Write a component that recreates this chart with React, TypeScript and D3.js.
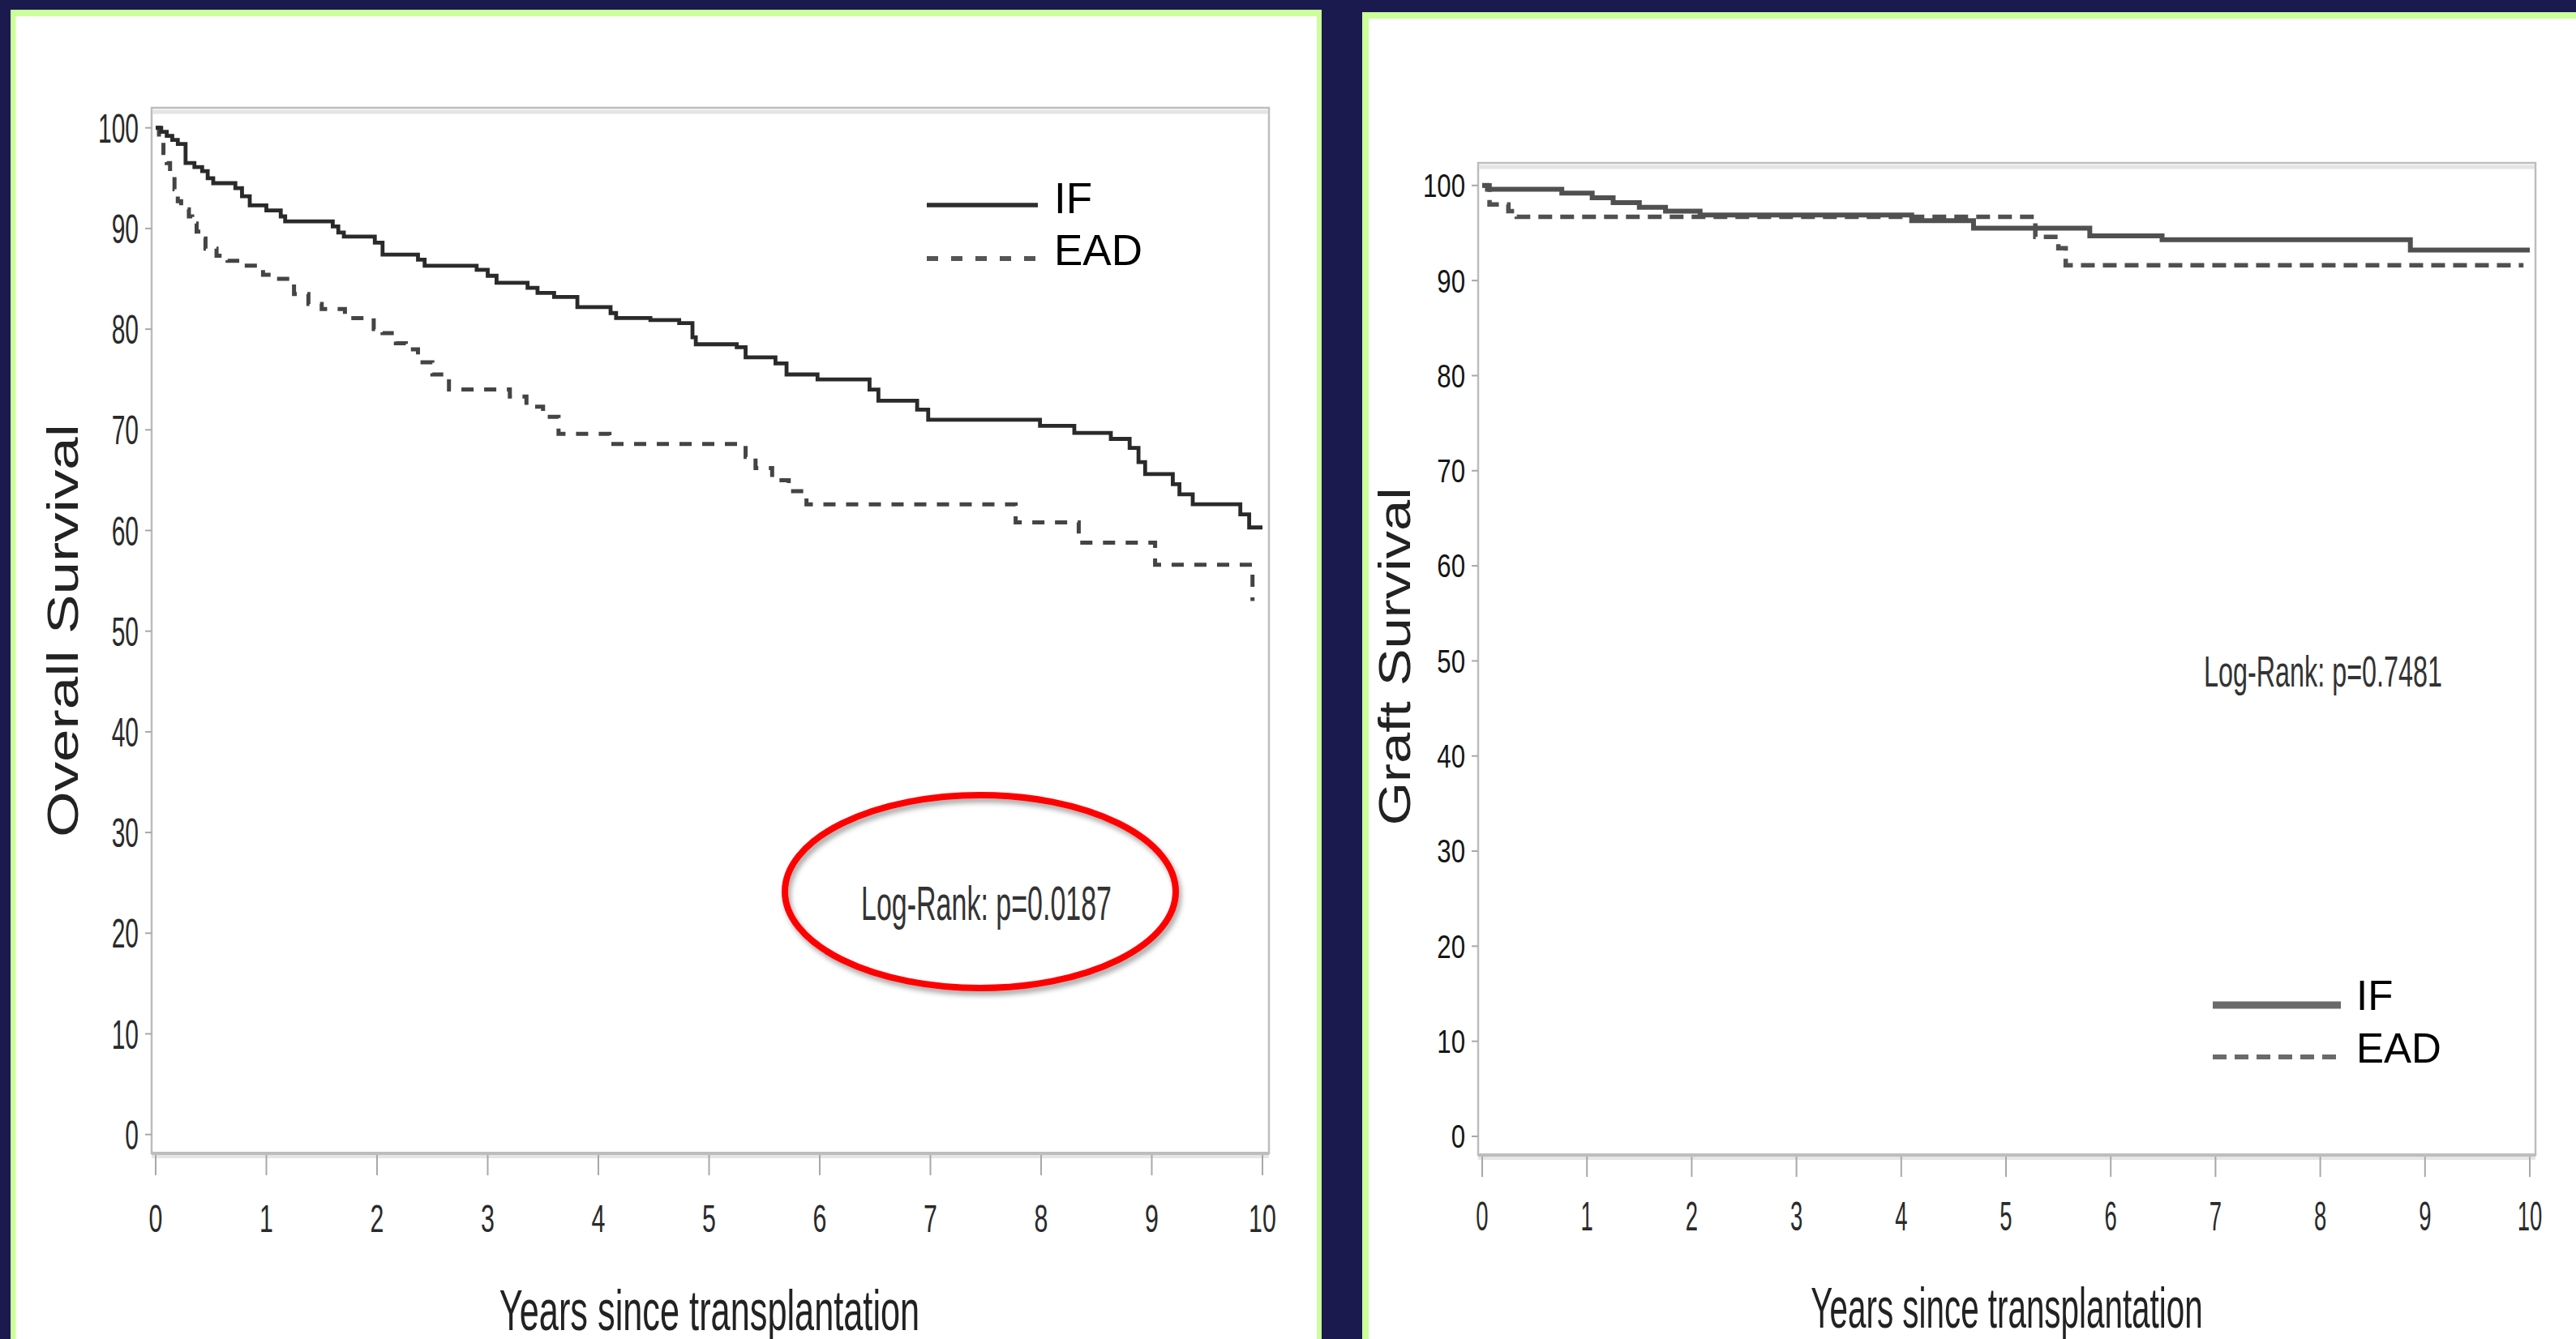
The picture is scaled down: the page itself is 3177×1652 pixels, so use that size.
import React from "react";
import * as d3 from "d3";

// ---------- data ----------
const xTicks = [0, 1, 2, 3, 4, 5, 6, 7, 8, 9, 10];
const yTicks = [0, 10, 20, 30, 40, 50, 60, 70, 80, 90, 100];
const seriesNames = ["IF", "EAD"];
const panelYTitles = ["Overall Survival", "Graft Survival"];
const xTitle = "Years since transplantation";
const logRankLabels = ["Log-Rank: p=0.0187", "Log-Rank: p=0.7481"];

// Kaplan–Meier steps [years, survival %] (value holds after the time)
const overallIF: [number, number][] = [
  [0, 100], [0.05, 99.6], [0.1, 99.2], [0.15, 98.8], [0.2, 98.4], [0.27, 96.5], [0.35, 96.1],
  [0.42, 95.7], [0.47, 95.0], [0.52, 94.5], [0.72, 94.0], [0.78, 93.2], [0.85, 92.3], [1.0, 91.8],
  [1.13, 91.2], [1.17, 90.7], [1.6, 90.2], [1.65, 89.6], [1.7, 89.2], [1.98, 88.6], [2.05, 87.4],
  [2.37, 86.9], [2.43, 86.3], [2.9, 85.9], [3.0, 85.3], [3.08, 84.6], [3.36, 84.1], [3.45, 83.6],
  [3.6, 83.2], [3.81, 82.2], [4.11, 81.6], [4.16, 81.1], [4.47, 80.9], [4.73, 80.6], [4.85, 79.2],
  [4.88, 78.5], [5.25, 78.2], [5.33, 77.2], [5.6, 76.6], [5.7, 75.5], [5.98, 75.0], [6.45, 74.0],
  [6.53, 72.9], [6.88, 72.0], [6.98, 71.0], [7.99, 70.4], [8.3, 69.7], [8.63, 69.1], [8.8, 68.2],
  [8.88, 66.8], [8.94, 65.6], [9.19, 64.6], [9.25, 63.6], [9.37, 62.6], [9.8, 61.6], [9.88, 60.3],
  [10.0, 60.3],
];
const overallEAD: [number, number][] = [
  [0, 100], [0.03, 98.8], [0.07, 97.5], [0.1, 96.5], [0.13, 95.2], [0.17, 93.9], [0.2, 92.7],
  [0.23, 91.9], [0.3, 91.2], [0.33, 90.5], [0.37, 89.7], [0.42, 89.0], [0.45, 88.0], [0.55, 87.3],
  [0.65, 86.8], [0.77, 86.3], [0.97, 85.4], [1.02, 85.0], [1.25, 83.5], [1.38, 82.5], [1.5, 82.0],
  [1.71, 81.1], [1.97, 80.0], [2.05, 79.6], [2.17, 78.6], [2.26, 78.0], [2.37, 76.7], [2.5, 75.5],
  [2.65, 74.0], [3.2, 73.3], [3.35, 72.3], [3.5, 71.3], [3.64, 69.6], [4.1, 68.6], [5.33, 67.3],
  [5.42, 66.2], [5.57, 65.0], [5.72, 63.9], [5.88, 62.6], [7.77, 60.8], [8.34, 58.8], [9.03, 56.6],
  [9.91, 53.0],
];
const graftIF: [number, number][] = [
  [0, 100], [0.05, 99.6], [0.76, 99.2], [1.05, 98.7], [1.25, 98.2], [1.5, 97.7], [1.75, 97.3],
  [2.08, 96.9], [4.1, 96.3], [4.69, 95.5], [5.8, 94.7], [6.49, 94.3], [8.86, 93.2], [10.0, 93.2],
];
const graftEAD: [number, number][] = [
  [0, 100], [0.07, 98.0], [0.25, 97.3], [0.33, 96.7], [5.28, 94.6], [5.5, 93.4], [5.57, 91.6],
  [9.94, 91.6],
];

// ---------- drawing ----------
const FONT = "'Liberation Sans', Arial, Helvetica, sans-serif";
const W = 3177;
const H = 1652;

type Layout = {
  x0: number; x10: number; y0: number; y100: number;
  frame: [number, number, number, number];
  yLabelRight: number; yLabelSize: number; yLabelSx: number; yTickLen: number; yLabelColor: string;
  xLabelBase: number; xLabelSize: number; xLabelSx: number;
  xTitleX: number; xTitleBase: number; xTitleSize: number; xTitleSx: number;
  yTitleX: number; yTitleY: number; yTitleSize: number; yTitleLen: number;
  legX0: number; legX1: number; legTextX: number; legY: [number, number]; legBase: [number, number];
  legSize: number; legIF: { color: string; width: number }; legEAD: { color: string; width: number; dash: string };
  lrX: number; lrBase: number; lrSize: number; lrLen: number;
  ifStyle: { color: string; width: number }; eadStyle: { color: string; width: number; dash: string };
};

function Panel({ L, ifData, eadData, yTitle, lr }: { L: Layout; ifData: [number, number][]; eadData: [number, number][]; yTitle: string; lr: string }) {
  const x = d3.scaleLinear().domain([0, 10]).range([L.x0, L.x10]);
  const y = d3.scaleLinear().domain([0, 100]).range([L.y0, L.y100]);
  const line = d3.line<[number, number]>().x((d) => x(d[0])).y((d) => y(d[1])).curve(d3.curveStepAfter);
  const [fx0, fy0, fx1, fy1] = L.frame;
  return (
    <g>
      {/* frame */}
      <rect x={fx0} y={fy0} width={fx1 - fx0} height={fy1 - fy0} fill="#fff" stroke="#bdbdbd" strokeWidth={2.5} />
      <line x1={fx0 + 1} x2={fx1 - 1} y1={fy0 + 5} y2={fy0 + 5} stroke="#e4e4e4" strokeWidth={5} />
      <line x1={fx0} x2={fx1} y1={fy1} y2={fy1} stroke="#bdbdbd" strokeWidth={4} />
      <line x1={fx0} x2={fx1} y1={fy1 + 4} y2={fy1 + 4} stroke="#e6e6e6" strokeWidth={4} />
      {/* y axis */}
      {yTicks.map((t) => (
        <g key={"y" + t}>
          <line x1={fx0 - L.yTickLen} x2={fx0} y1={y(t)} y2={y(t)} stroke="#a8a8a8" strokeWidth={2} />
          <text
            transform={`translate(${L.yLabelRight},${y(t) + L.yLabelSize * 0.36}) scale(${L.yLabelSx},1)`}
            textAnchor="end" fontSize={L.yLabelSize} fontFamily={FONT} fill={L.yLabelColor}
          >{t}</text>
        </g>
      ))}
      {/* x axis */}
      {xTicks.map((t) => (
        <g key={"x" + t}>
          <line x1={x(t)} x2={x(t)} y1={fy1 + 2} y2={fy1 + 27} stroke="#a8a8a8" strokeWidth={2} />
          <text
            transform={`translate(${x(t)},${L.xLabelBase}) scale(${L.xLabelSx},1)`}
            textAnchor="middle" fontSize={L.xLabelSize} fontFamily={FONT} fill="#2a2a2a"
          >{t}</text>
        </g>
      ))}
      <text
        transform={`translate(${L.xTitleX},${L.xTitleBase}) scale(${L.xTitleSx},1)`}
        textAnchor="middle" fontSize={L.xTitleSize} fontFamily={FONT} fill="#222"
      >{xTitle}</text>
      <text
        transform={`translate(${L.yTitleX},${L.yTitleY}) rotate(-90)`}
        textAnchor="middle" fontSize={L.yTitleSize} fontFamily={FONT} fill="#222"
        textLength={L.yTitleLen} lengthAdjust="spacingAndGlyphs"
      >{yTitle}</text>
      {/* curves */}
      <path d={line(eadData) || ""} fill="none" stroke={L.eadStyle.color} strokeWidth={L.eadStyle.width} strokeDasharray={L.eadStyle.dash} />
      <path d={line(ifData) || ""} fill="none" stroke={L.ifStyle.color} strokeWidth={L.ifStyle.width} />
      {/* legend */}
      <line x1={L.legX0} x2={L.legX1} y1={L.legY[0]} y2={L.legY[0]} stroke={L.legIF.color} strokeWidth={L.legIF.width} />
      <line x1={L.legX0} x2={L.legX1} y1={L.legY[1]} y2={L.legY[1]} stroke={L.legEAD.color} strokeWidth={L.legEAD.width} strokeDasharray={L.legEAD.dash} />
      {seriesNames.map((n, i) => (
        <text key={n} x={L.legTextX} y={L.legBase[i]} fontSize={L.legSize} fontFamily={FONT} fill="#000">{n}</text>
      ))}
      {/* log-rank */}
      <text x={L.lrX} y={L.lrBase} fontSize={L.lrSize} fontFamily={FONT} fill="#333"
        textLength={L.lrLen} lengthAdjust="spacingAndGlyphs">{lr}</text>
    </g>
  );
}

const leftL: Layout = {
  x0: 192, x10: 1557, y0: 1399.7, y100: 157.7,
  frame: [187, 133, 1565, 1423],
  yLabelRight: 171, yLabelSize: 50, yLabelSx: 0.6, yTickLen: 8, yLabelColor: "#2a2a2a",
  xLabelBase: 1520, xLabelSize: 49, xLabelSx: 0.62,
  xTitleX: 875, xTitleBase: 1641, xTitleSize: 71, xTitleSx: 0.61,
  yTitleX: 96, yTitleY: 778, yTitleSize: 54, yTitleLen: 510,
  legX0: 1143, legX1: 1280, legTextX: 1300, legY: [253, 319], legBase: [263, 327], legSize: 53,
  legIF: { color: "#2e2e2e", width: 5.5 }, legEAD: { color: "#555", width: 6, dash: "14,16" },
  lrX: 1062, lrBase: 1135, lrSize: 60, lrLen: 309,
  ifStyle: { color: "#2a2a2a", width: 4.8 }, eadStyle: { color: "#444", width: 5, dash: "15,13" },
};

const rightL: Layout = {
  x0: 1828, x10: 3120, y0: 1402, y100: 228.8,
  frame: [1823, 201, 3127, 1425],
  yLabelRight: 1807, yLabelSize: 40, yLabelSx: 0.78, yTickLen: 8, yLabelColor: "#151515",
  xLabelBase: 1518, xLabelSize: 49, xLabelSx: 0.56,
  xTitleX: 2475, xTitleBase: 1638, xTitleSize: 70, xTitleSx: 0.577,
  yTitleX: 1739, yTitleY: 810, yTitleSize: 56, yTitleLen: 417,
  legX0: 2729, legX1: 2887, legTextX: 2906, legY: [1240, 1304], legBase: [1246, 1311], legSize: 51,
  legIF: { color: "#6a6a6a", width: 9 }, legEAD: { color: "#6a6a6a", width: 6, dash: "17,10" },
  lrX: 2718, lrBase: 847, lrSize: 53, lrLen: 294,
  ifStyle: { color: "#505050", width: 6 }, eadStyle: { color: "#505050", width: 5.5, dash: "17,10" },
};

export default function App() {
  const ellipse = { cx: 1209, cy: 1100, rx: 241, ry: 119 };
  return (
    <svg width={W} height={H} viewBox={`0 0 ${W} ${H}`}
      style={{ position: "absolute", left: 0, top: 0, display: "block" }}>
      <defs>
        <filter id="shadow" x="-20%" y="-20%" width="140%" height="140%">
          <feDropShadow dx="3" dy="5" stdDeviation="3" floodColor="#000" floodOpacity="0.35" />
        </filter>
      </defs>
      <rect x={0} y={0} width={W} height={H} fill="#1a1a4e" />
      {/* left card */}
      <rect x={13} y={12} width={1617} height={1700} fill="#ccff99" />
      <rect x={19.5} y={20} width={1604.5} height={1700} fill="#ffffff" />
      {/* right card */}
      <rect x={1680} y={15} width={1600} height={1700} fill="#ccff99" />
      <rect x={1688} y={23} width={1600} height={1700} fill="#ffffff" />

      <Panel L={leftL} ifData={overallIF} eadData={overallEAD} yTitle={panelYTitles[0]} lr={logRankLabels[0]} />
      <Panel L={rightL} ifData={graftIF} eadData={graftEAD} yTitle={panelYTitles[1]} lr={logRankLabels[1]} />

      <ellipse cx={ellipse.cx} cy={ellipse.cy} rx={ellipse.rx} ry={ellipse.ry}
        fill="none" stroke="#ff0000" strokeWidth={8} filter="url(#shadow)" />
    </svg>
  );
}
